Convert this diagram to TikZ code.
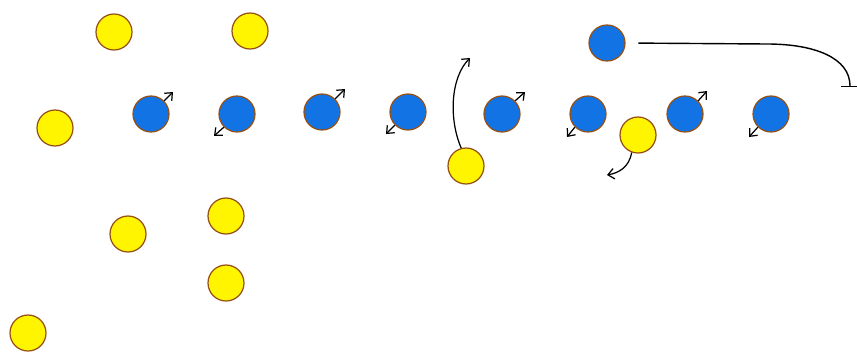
\documentclass[tikz,border=0pt]{standalone}
\usetikzlibrary{arrows.meta}
\definecolor{pyellow}{RGB}{255,245,0}
\definecolor{pblue}{RGB}{18,115,228}
\definecolor{pbrown}{RGB}{150,80,20}
\tikzset{
  player/.style={circle,draw=pbrown,line width=0.7pt,minimum size=0.72cm,inner sep=0pt},
  yel/.style={player,fill=pyellow},
  blu/.style={player,fill=pblue},
  mv/.style={line width=0.7pt,-{Straight Barb[length=3.5pt,width=6pt]}},
  route/.style={line width=0.8pt}
}
\begin{document}
\begin{tikzpicture}[x=0.02cm,y=-0.02cm]
\useasboundingbox (0,0) rectangle (857,352);
% yellow players
\node[yel] (y1) at (114,32) {};
\node[yel] (y2) at (250,31) {};
\node[yel] (y3) at (55,128) {};
\node[yel] (y4) at (466,166) {};
\node[yel] (y5) at (638,135) {};
\node[yel] (y6) at (128,234) {};
\node[yel] (y7) at (226,216) {};
\node[yel] (y8) at (226,283) {};
\node[yel] (y9) at (28,333) {};
% blue players
\node[blu] (b1) at (151,114) {};
\node[blu] (b2) at (237,114) {};
\node[blu] (b3) at (322,112) {};
\node[blu] (b4) at (408,112) {};
\node[blu] (b5) at (502,114) {};
\node[blu] (b6) at (588,114) {};
\node[blu] (b7) at (685,114) {};
\node[blu] (b8) at (771,114) {};
\node[blu] (bt) at (607,43) {};
% arrow ends
\coordinate (e1) at (173,92);
\coordinate (e2) at (214,136);
\coordinate (e3) at (345,89);
\coordinate (e4) at (386,134);
\coordinate (e5) at (525,92);
\coordinate (e6) at (567,137);
\coordinate (e7) at (707,91);
\coordinate (e8) at (749,137);
\coordinate (ey4) at (470,58);
\coordinate (ey5) at (607,175);
\coordinate (r1) at (767,44);
\coordinate (r2) at (850,87);
% short moves
\draw[mv] (b1.45) -- (e1);
\draw[mv] (b2.225) -- (e2);
\draw[mv] (b3.45) -- (e3);
\draw[mv] (b4.225) -- (e4);
\draw[mv] (b5.45) -- (e5);
\draw[mv] (b6.225) -- (e6);
\draw[mv] (b7.45) -- (e7);
\draw[mv] (b8.225) -- (e8);
% curved moves
\draw[mv] (y4.105) .. controls (449,120) and (450,78) .. (ey4);
\draw[mv] (y5.-110) .. controls (629,168) and (618,173) .. (ey5);
% long route
\draw[route,-{Bar[width=10pt]},shorten <=9\pgflinewidth] (bt.east) -- (r1) .. controls (815,44) and (850,58) .. (r2);
\end{tikzpicture}
\end{document}
